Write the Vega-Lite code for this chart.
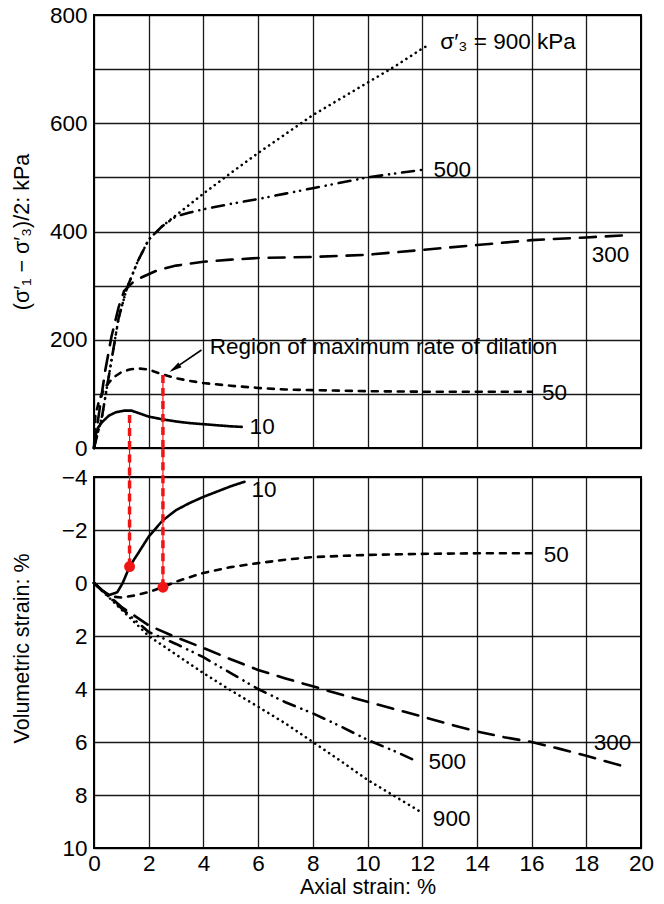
{
  "$schema": "https://vega.github.io/schema/vega-lite/v6.json",
  "background": "white",
  "padding": {"left": 10, "top": 3, "right": 5, "bottom": 5},
  "bounds": "flush",
  "spacing": 29,
  "config": {
    "font": "Liberation Sans",
    "view": {"stroke": "black", "strokeWidth": 2},
    "axis": {
      "gridColor": "black", "gridWidth": 1.3, "gridOpacity": 0.9,
      "domain": false, "ticks": false,
      "labelFontSize": 22.5, "labelColor": "black", "labelFlush": false, "labelOverlap": false,
      "titleFontSize": 21.5, "titleFontWeight": "normal", "titleColor": "black", "labelPadding": 7
    },
    "text": {"font": "Liberation Sans", "fontSize": 22, "color": "black"}
  },
  "datasets": {
    "top": [
      {"s":"10","x":0,"y":0},{"s":"10","x":0.05,"y":25},{"s":"10","x":0.15,"y":38},{"s":"10","x":0.3,"y":48},{"s":"10","x":0.55,"y":60},{"s":"10","x":0.8,"y":66},{"s":"10","x":1.1,"y":69},{"s":"10","x":1.37,"y":69},{"s":"10","x":1.6,"y":65},{"s":"10","x":2,"y":58},{"s":"10","x":2.5,"y":53},{"s":"10","x":3,"y":49},{"s":"10","x":3.5,"y":46},{"s":"10","x":4,"y":44},{"s":"10","x":4.5,"y":42},{"s":"10","x":5,"y":40},{"s":"10","x":5.4,"y":39},
      {"s":"50","x":0,"y":0},{"s":"50","x":0.05,"y":60},{"s":"50","x":0.2,"y":90},{"s":"50","x":0.4,"y":112},{"s":"50","x":0.7,"y":130},{"s":"50","x":1,"y":140},{"s":"50","x":1.3,"y":145},{"s":"50","x":1.6,"y":147},{"s":"50","x":2,"y":145},{"s":"50","x":2.5,"y":136},{"s":"50","x":3,"y":129},{"s":"50","x":3.5,"y":124},{"s":"50","x":4,"y":120},{"s":"50","x":5,"y":115},{"s":"50","x":6,"y":111},{"s":"50","x":7,"y":108},{"s":"50","x":8,"y":107},{"s":"50","x":10,"y":105},{"s":"50","x":12,"y":104},{"s":"50","x":14,"y":104},{"s":"50","x":16,"y":104},
      {"s":"300","x":0,"y":0},{"s":"300","x":0.2,"y":70},{"s":"300","x":0.4,"y":140},{"s":"300","x":0.64,"y":206},{"s":"300","x":0.9,"y":260},{"s":"300","x":1.1,"y":290},{"s":"300","x":1.4,"y":305},{"s":"300","x":1.73,"y":315},{"s":"300","x":2.35,"y":329},{"s":"300","x":3,"y":337},{"s":"300","x":4,"y":344},{"s":"300","x":5,"y":348},{"s":"300","x":6,"y":351},{"s":"300","x":8,"y":353},{"s":"300","x":10,"y":357},{"s":"300","x":12,"y":366},{"s":"300","x":14,"y":375},{"s":"300","x":16,"y":384},{"s":"300","x":18,"y":389},{"s":"300","x":19.4,"y":393},
      {"s":"500","x":0,"y":0},{"s":"500","x":0.3,"y":60},{"s":"500","x":0.6,"y":150},{"s":"500","x":0.9,"y":240},{"s":"500","x":1.2,"y":295},{"s":"500","x":1.6,"y":345},{"s":"500","x":2,"y":385},{"s":"500","x":2.5,"y":410},{"s":"500","x":3,"y":428},{"s":"500","x":3.5,"y":435},{"s":"500","x":4,"y":441},{"s":"500","x":5,"y":451},{"s":"500","x":6,"y":460},{"s":"500","x":7,"y":470},{"s":"500","x":8,"y":480},{"s":"500","x":9,"y":490},{"s":"500","x":10,"y":500},{"s":"500","x":11,"y":507},{"s":"500","x":12,"y":514},
      {"s":"900","x":0,"y":0},{"s":"900","x":0.3,"y":60},{"s":"900","x":0.6,"y":150},{"s":"900","x":0.9,"y":240},{"s":"900","x":1.2,"y":295},{"s":"900","x":1.6,"y":345},{"s":"900","x":2,"y":385},{"s":"900","x":2.5,"y":410},{"s":"900","x":3,"y":430},{"s":"900","x":3.5,"y":450},{"s":"900","x":4,"y":470},{"s":"900","x":5,"y":508},{"s":"900","x":6,"y":545},{"s":"900","x":7,"y":580},{"s":"900","x":8,"y":615},{"s":"900","x":9,"y":645},{"s":"900","x":10,"y":675},{"s":"900","x":11,"y":705},{"s":"900","x":12,"y":738},{"s":"900","x":12.25,"y":745}
    ],
    "bottom": [
      {"s":"10","x":0,"y":0},{"s":"10","x":0.3,"y":0.3},{"s":"10","x":0.57,"y":0.45},{"s":"10","x":0.85,"y":0.35},{"s":"10","x":1.05,"y":0},{"s":"10","x":1.3,"y":-0.62},{"s":"10","x":1.6,"y":-1.1},{"s":"10","x":2,"y":-1.75},{"s":"10","x":2.5,"y":-2.35},{"s":"10","x":3,"y":-2.75},{"s":"10","x":3.5,"y":-3.02},{"s":"10","x":4,"y":-3.25},{"s":"10","x":4.5,"y":-3.45},{"s":"10","x":5,"y":-3.65},{"s":"10","x":5.5,"y":-3.82},
      {"s":"50","x":0,"y":0},{"s":"50","x":0.57,"y":0.5},{"s":"50","x":1,"y":0.55},{"s":"50","x":1.5,"y":0.47},{"s":"50","x":2,"y":0.34},{"s":"50","x":2.52,"y":0.16},{"s":"50","x":3,"y":-0.05},{"s":"50","x":3.5,"y":-0.22},{"s":"50","x":4,"y":-0.38},{"s":"50","x":5,"y":-0.6},{"s":"50","x":6,"y":-0.75},{"s":"50","x":7,"y":-0.88},{"s":"50","x":8,"y":-0.98},{"s":"50","x":10,"y":-1.06},{"s":"50","x":12,"y":-1.1},{"s":"50","x":14,"y":-1.12},{"s":"50","x":16,"y":-1.12},
      {"s":"300","x":0,"y":0},{"s":"300","x":0.5,"y":0.45},{"s":"300","x":1,"y":0.9},{"s":"300","x":2,"y":1.6},{"s":"300","x":3,"y":2.05},{"s":"300","x":4,"y":2.45},{"s":"300","x":5,"y":2.88},{"s":"300","x":6,"y":3.28},{"s":"300","x":7,"y":3.6},{"s":"300","x":8,"y":3.9},{"s":"300","x":9,"y":4.2},{"s":"300","x":10,"y":4.48},{"s":"300","x":11,"y":4.76},{"s":"300","x":12,"y":5.04},{"s":"300","x":13,"y":5.33},{"s":"300","x":14,"y":5.6},{"s":"300","x":15,"y":5.82},{"s":"300","x":16,"y":6.0},{"s":"300","x":17,"y":6.25},{"s":"300","x":18,"y":6.52},{"s":"300","x":19.3,"y":6.9},
      {"s":"500","x":0,"y":0},{"s":"500","x":0.5,"y":0.48},{"s":"500","x":1,"y":0.95},{"s":"500","x":2,"y":1.85},{"s":"500","x":3,"y":2.3},{"s":"500","x":4,"y":2.8},{"s":"500","x":5,"y":3.4},{"s":"500","x":6,"y":4.0},{"s":"500","x":7,"y":4.5},{"s":"500","x":8,"y":4.92},{"s":"500","x":9,"y":5.4},{"s":"500","x":10,"y":5.92},{"s":"500","x":11,"y":6.35},{"s":"500","x":11.7,"y":6.68},
      {"s":"900","x":0,"y":0},{"s":"900","x":0.5,"y":0.5},{"s":"900","x":1,"y":1.0},{"s":"900","x":2,"y":2.0},{"s":"900","x":3,"y":2.7},{"s":"900","x":4,"y":3.4},{"s":"900","x":5,"y":4.05},{"s":"900","x":6,"y":4.67},{"s":"900","x":7,"y":5.3},{"s":"900","x":8,"y":6.0},{"s":"900","x":9,"y":6.7},{"s":"900","x":10,"y":7.43},{"s":"900","x":11,"y":8.05},{"s":"900","x":12,"y":8.67}
    ],
    "toplabels": [
      {"x":12.66,"y":751,"text":"σ′₃ = 900 kPa"},
      {"x":12.41,"y":514,"text":"500"},
      {"x":18.2,"y":357,"text":"300"},
      {"x":16.38,"y":101,"text":"50"},
      {"x":5.69,"y":39,"text":"10"},
      {"x":4.23,"y":187,"text":"Region of maximum rate of dilation"}
    ],
    "bottomlabels": [
      {"x":5.76,"y":-3.51,"text":"10"},
      {"x":16.44,"y":-1.06,"text":"50"},
      {"x":18.27,"y":6.05,"text":"300"},
      {"x":12.23,"y":6.74,"text":"500"},
      {"x":12.39,"y":8.92,"text":"900"}
    ],
    "arrow": [{"x":3.93,"y":181},{"x":2.85,"y":144}],
    "arrowhead": [{"x":2.95,"y":147}],
    "redtop": [{"x":1.3,"y":61,"y2":0},{"x":2.52,"y":135,"y2":0}],
    "redbottom": [{"x":1.3,"y":-0.62,"y2":-5.1},{"x":2.52,"y":0.16,"y2":-5.1}]
  },
  "vconcat": [
    {
      "width": 547, "height": 433,
      "layer": [
        {
          "data": {"name": "top"},
          "mark": {"type": "line", "color": "black", "strokeWidth": 2.6, "strokeCap": "round"},
          "encoding": {
            "x": {"field": "x", "type": "quantitative", "scale": {"domain": [0, 20], "nice": false},
                  "axis": {"values": [0,2,4,6,8,10,12,14,16,18,20], "labels": false, "title": null}},
            "y": {"field": "y", "type": "quantitative", "scale": {"domain": [0, 800], "nice": false},
                  "axis": {"values": [0,100,200,300,400,500,600,700,800], "labelExpr": "datum.value % 200 === 0 ? datum.label : ''", "title": "(σ′₁ − σ′₃)/2: kPa", "titleX": -61}},
            "strokeDash": {"field": "s", "type": "nominal", "legend": null,
                  "scale": {"domain": ["10","50","300","500","900"], "range": [[1,0],[6,7],[16,10],[12,7,0.1,6,0.1,7],[0.1,5.5]]}}
          }
        },
        {
          "data": {"name": "redtop"},
          "mark": {"type": "rule", "color": "#f01515", "strokeWidth": 1.2},
          "encoding": {"x": {"field": "x", "type": "quantitative"}, "y": {"field": "y", "type": "quantitative"}, "y2": {"field": "y2"}}
        },
        {
          "data": {"name": "redtop"},
          "mark": {"type": "rule", "color": "#f01515", "strokeWidth": 3.5, "strokeDash": [8,5]},
          "encoding": {"x": {"field": "x", "type": "quantitative"}, "y": {"field": "y", "type": "quantitative"}, "y2": {"field": "y2"}}
        },
        {
          "data": {"name": "arrow"},
          "mark": {"type": "line", "color": "black", "strokeWidth": 1.6},
          "encoding": {"x": {"field": "x", "type": "quantitative"}, "y": {"field": "y", "type": "quantitative"}}
        },
        {
          "data": {"name": "arrowhead"},
          "mark": {"type": "point", "shape": "M0,-1L0.45,1L-0.45,1Z", "filled": true, "color": "black", "opacity": 1, "size": 160, "angle": 236},
          "encoding": {"x": {"field": "x", "type": "quantitative"}, "y": {"field": "y", "type": "quantitative"}}
        },
        {
          "data": {"name": "toplabels"},
          "mark": {"type": "text", "align": "left", "baseline": "middle", "fontSize": 22.5},
          "encoding": {"x": {"field": "x", "type": "quantitative"}, "y": {"field": "y", "type": "quantitative"}, "text": {"field": "text"}}
        }
      ]
    },
    {
      "width": 547, "height": 371,
      "layer": [
        {
          "data": {"name": "bottom"},
          "mark": {"type": "line", "color": "black", "strokeWidth": 2.6, "strokeCap": "round"},
          "encoding": {
            "x": {"field": "x", "type": "quantitative", "scale": {"domain": [0, 20], "nice": false},
                  "axis": {"values": [0,2,4,6,8,10,12,14,16,18,20], "title": "Axial strain: %", "labelPadding": 4, "titlePadding": 2}},
            "y": {"field": "y", "type": "quantitative", "scale": {"domain": [-4, 10], "nice": false, "reverse": true},
                  "axis": {"values": [-4,-2,0,2,4,6,8,10], "title": "Volumetric strain: %", "titleX": -61, "titleY": 171}},
            "strokeDash": {"field": "s", "type": "nominal", "legend": null,
                  "scale": {"domain": ["10","50","300","500","900"], "range": [[1,0],[6,7],[16,10],[12,7,0.1,6,0.1,7],[0.1,5.5]]}}
          }
        },
        {
          "data": {"name": "redbottom"},
          "mark": {"type": "rule", "color": "#f01515", "strokeWidth": 1.2},
          "encoding": {"x": {"field": "x", "type": "quantitative"}, "y": {"field": "y", "type": "quantitative"}, "y2": {"field": "y2"}}
        },
        {
          "data": {"name": "redbottom"},
          "mark": {"type": "rule", "color": "#f01515", "strokeWidth": 3.5, "strokeDash": [8,5]},
          "encoding": {"x": {"field": "x", "type": "quantitative"}, "y": {"field": "y", "type": "quantitative"}, "y2": {"field": "y2"}}
        },
        {
          "data": {"name": "redbottom"},
          "mark": {"type": "circle", "color": "#f01515", "opacity": 1, "size": 120},
          "encoding": {"x": {"field": "x", "type": "quantitative"}, "y": {"field": "y", "type": "quantitative"}}
        },
        {
          "data": {"name": "bottomlabels"},
          "mark": {"type": "text", "align": "left", "baseline": "middle", "fontSize": 22.5},
          "encoding": {"x": {"field": "x", "type": "quantitative"}, "y": {"field": "y", "type": "quantitative"}, "text": {"field": "text"}}
        }
      ]
    }
  ]
}
